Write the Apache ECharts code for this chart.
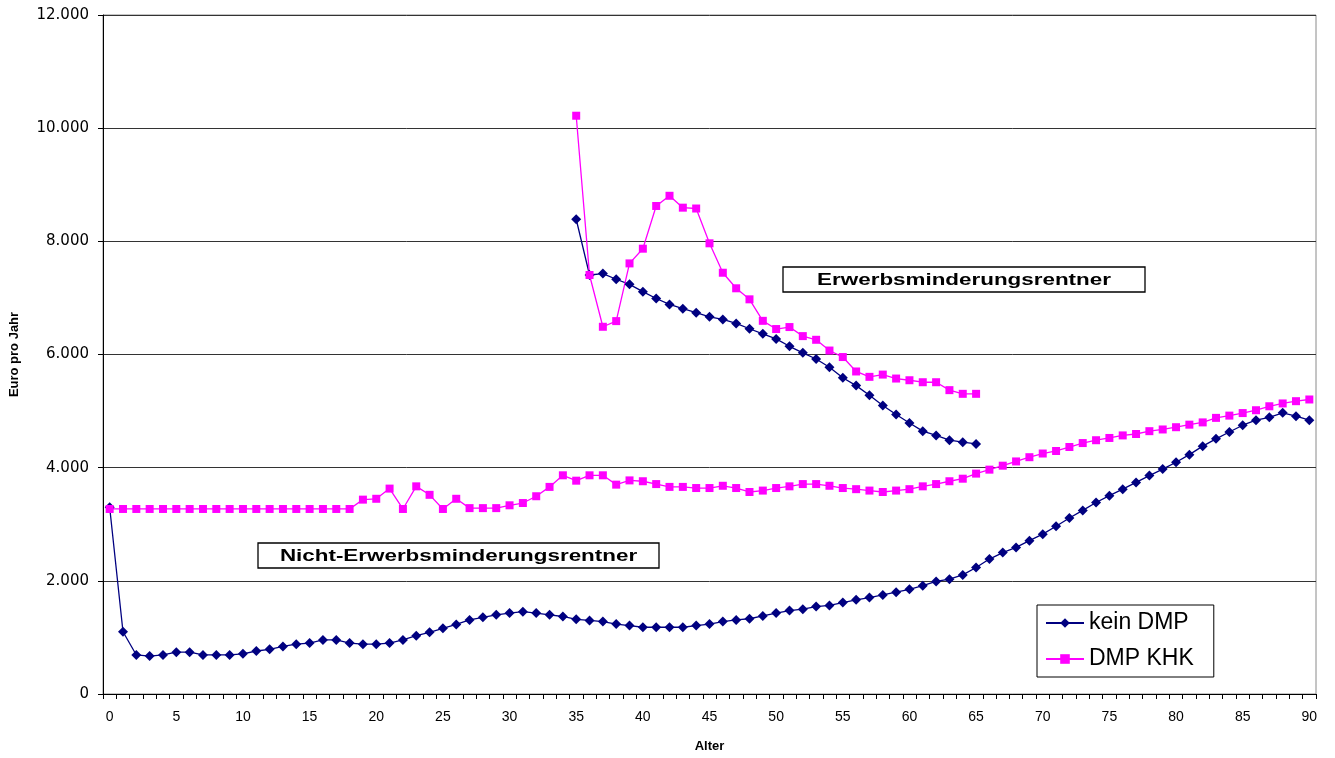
<!DOCTYPE html>
<html>
<head>
<meta charset="utf-8">
<title>Euro pro Jahr nach Alter</title>
<script src="https://cdn.jsdelivr.net/npm/echarts@6/dist/echarts.min.js"></script>
<style>
  html, body { margin: 0; padding: 0; background: #fff; }
  #chart { width: 1335px; height: 758px; }
</style>
</head>
<body>
<div id="chart"></div>
<script>
// Ages 0..90 on the category axis
const ages = Array.from({ length: 91 }, (_, i) => String(i));

// Nicht-Erwerbsminderungsrentner, ages 0..90
const nichtKeinDmp = [
  3300, 1100, 690, 670, 690, 740, 740, 690, 690, 690,
  710, 760, 790, 840, 880, 900, 955, 955, 900, 880,
  880, 900, 955, 1030, 1090, 1160, 1230, 1310, 1355, 1400,
  1430, 1455, 1430, 1400, 1370, 1320, 1300, 1280, 1235, 1210,
  1180, 1180, 1180, 1180, 1210, 1235, 1280, 1310, 1330, 1380,
  1430, 1475, 1500, 1545, 1565, 1615, 1665, 1705, 1750, 1800,
  1850, 1915, 1990, 2030, 2105, 2235, 2385, 2500, 2590, 2710,
  2825, 2965, 3110, 3245, 3385, 3505, 3620, 3740, 3860, 3975,
  4095, 4230, 4380, 4510, 4630, 4750, 4840, 4890, 4970, 4910,
  4840
];
const nichtDmpKhk = [
  3270, 3270, 3270, 3270, 3270, 3270, 3270, 3270, 3270, 3270,
  3270, 3270, 3270, 3270, 3270, 3270, 3270, 3270, 3270, 3435,
  3450, 3630, 3270, 3670, 3520, 3270, 3450, 3285, 3285, 3285,
  3335, 3375, 3495, 3660, 3865, 3770, 3865, 3865, 3700, 3775,
  3760, 3710, 3660, 3660, 3640, 3640, 3680, 3640, 3570, 3595,
  3640, 3670, 3710, 3710, 3680, 3640, 3620, 3595, 3570, 3595,
  3620, 3670, 3710, 3760, 3805, 3895, 3965, 4035, 4110, 4185,
  4250, 4295, 4365, 4435, 4485, 4525, 4570, 4595, 4645, 4675,
  4715, 4760, 4800, 4880, 4920, 4965, 5015, 5085, 5135, 5175,
  5205
];

// Erwerbsminderungsrentner, ages 35..65
const emStartAge = 35;
const emKeinDmp = [
  8390, 7405, 7430, 7330, 7240, 7110, 6990, 6885, 6810, 6740,
  6665, 6620, 6550, 6455, 6365, 6275, 6145, 6030, 5920, 5775,
  5590, 5450, 5280, 5100, 4940, 4790, 4645, 4570, 4485, 4450,
  4420
];
const emDmpKhk = [
  10220, 7405, 6490, 6590, 7610, 7870, 8625, 8805, 8595, 8580,
  7965, 7445, 7170, 6975, 6595, 6450, 6485, 6325, 6260, 6070,
  5955, 5700, 5605, 5645, 5575, 5545, 5510, 5510, 5370, 5305,
  5305
];

const NAVY = '#000080';
const MAGENTA = '#FF00FF';

const withAge = (arr, start) => arr.map((v, i) => [start + i, v]);
const thousands = v => String(v).replace(/\B(?=(\d{3})+(?!\d))/g, '.');

const keinStyle = {
  type: 'line',
  name: 'kein DMP',
  symbol: 'diamond',
  symbolSize: 10,
  showAllSymbol: true,
  lineStyle: { color: NAVY, width: 1.3 },
  itemStyle: { color: NAVY },
  emphasis: { disabled: true },
  animation: false
};
const khkStyle = {
  type: 'line',
  name: 'DMP KHK',
  symbol: 'rect',
  symbolSize: 8,
  showAllSymbol: true,
  lineStyle: { color: MAGENTA, width: 1.3 },
  itemStyle: { color: MAGENTA },
  emphasis: { disabled: true },
  animation: false
};

const chart = echarts.init(document.getElementById('chart'), null, { renderer: 'canvas' });

// Framed caption: white box with black border and widened bold text
function labelBox(x, y, w, h, text) {
  return {
    type: 'group',
    x: x, y: y,
    z: 100,
    children: [
      { type: 'rect', shape: { x: 0, y: 0, width: w, height: h },
        style: { fill: '#fff', stroke: '#000', lineWidth: 1.3 } },
      { type: 'text', x: w / 2, y: h / 2 + 1, scaleX: 1.4,
        style: { text: text, fill: '#000', align: 'center', verticalAlign: 'middle',
                 font: 'bold 16px "Liberation Sans", Arial, sans-serif' } }
    ]
  };
}

chart.setOption({
  backgroundColor: '#fff',
  animation: false,
  textStyle: { fontFamily: '"Liberation Sans", Arial, sans-serif' },
  grid: {
    left: 103, right: 19, top: 15, bottom: 64,
    outerBoundsMode: 'none',
    containLabel: false,
    show: true, borderColor: '#8a8a8a', borderWidth: 1, backgroundColor: 'transparent'
  },
  legend: {
    data: ['kein DMP', 'DMP KHK'],
    orient: 'vertical',
    left: 1037, top: 605,
    padding: [4, 20, 4, 8],
    itemGap: 8,
    itemWidth: 38, itemHeight: 12,
    borderColor: '#000', borderWidth: 1,
    backgroundColor: '#fff',
    selectedMode: false,
    textStyle: { fontSize: 23, color: '#000', lineHeight: 28,
                 fontFamily: '"Liberation Sans", Arial, sans-serif' }
  },
  xAxis: {
    type: 'category',
    data: ages,
    boundaryGap: true,
    name: 'Alter',
    nameLocation: 'middle',
    nameGap: 46,
    nameTextStyle: { fontWeight: 'bold', fontSize: 13, color: '#000' },
    axisLine: { lineStyle: { color: '#000', width: 1 } },
    axisTick: { show: true, interval: 0, length: 5, lineStyle: { color: '#000' } },
    axisLabel: { interval: 4, margin: 16, fontSize: 14, color: '#000' },
    splitLine: { show: false }
  },
  yAxis: {
    type: 'value',
    min: 0, max: 12000, interval: 2000,
    name: 'Euro pro Jahr',
    nameLocation: 'middle',
    nameGap: 82,
    nameTextStyle: { fontWeight: 'bold', fontSize: 13, color: '#000' },
    axisLine: { show: true, lineStyle: { color: '#000', width: 1 } },
    axisTick: { show: true, length: 5, lineStyle: { color: '#000' } },
    axisLabel: { margin: 14, fontSize: 15, color: '#000', formatter: thousands,
                 fontFamily: '"DejaVu Sans", sans-serif' },
    splitLine: { show: true, lineStyle: { color: '#333', width: 1 } }
  },
  graphic: [
    labelBox(783, 267, 362, 25, 'Erwerbsminderungsrentner'),
    labelBox(258, 543, 401, 25, 'Nicht-Erwerbsminderungsrentner')
  ],
  series: [
    Object.assign({}, keinStyle, { data: nichtKeinDmp }),
    Object.assign({}, khkStyle, { data: nichtDmpKhk }),
    Object.assign({}, keinStyle, { data: withAge(emKeinDmp, emStartAge) }),
    Object.assign({}, khkStyle, { data: withAge(emDmpKhk, emStartAge) })
  ]
});
</script>
</body>
</html>
